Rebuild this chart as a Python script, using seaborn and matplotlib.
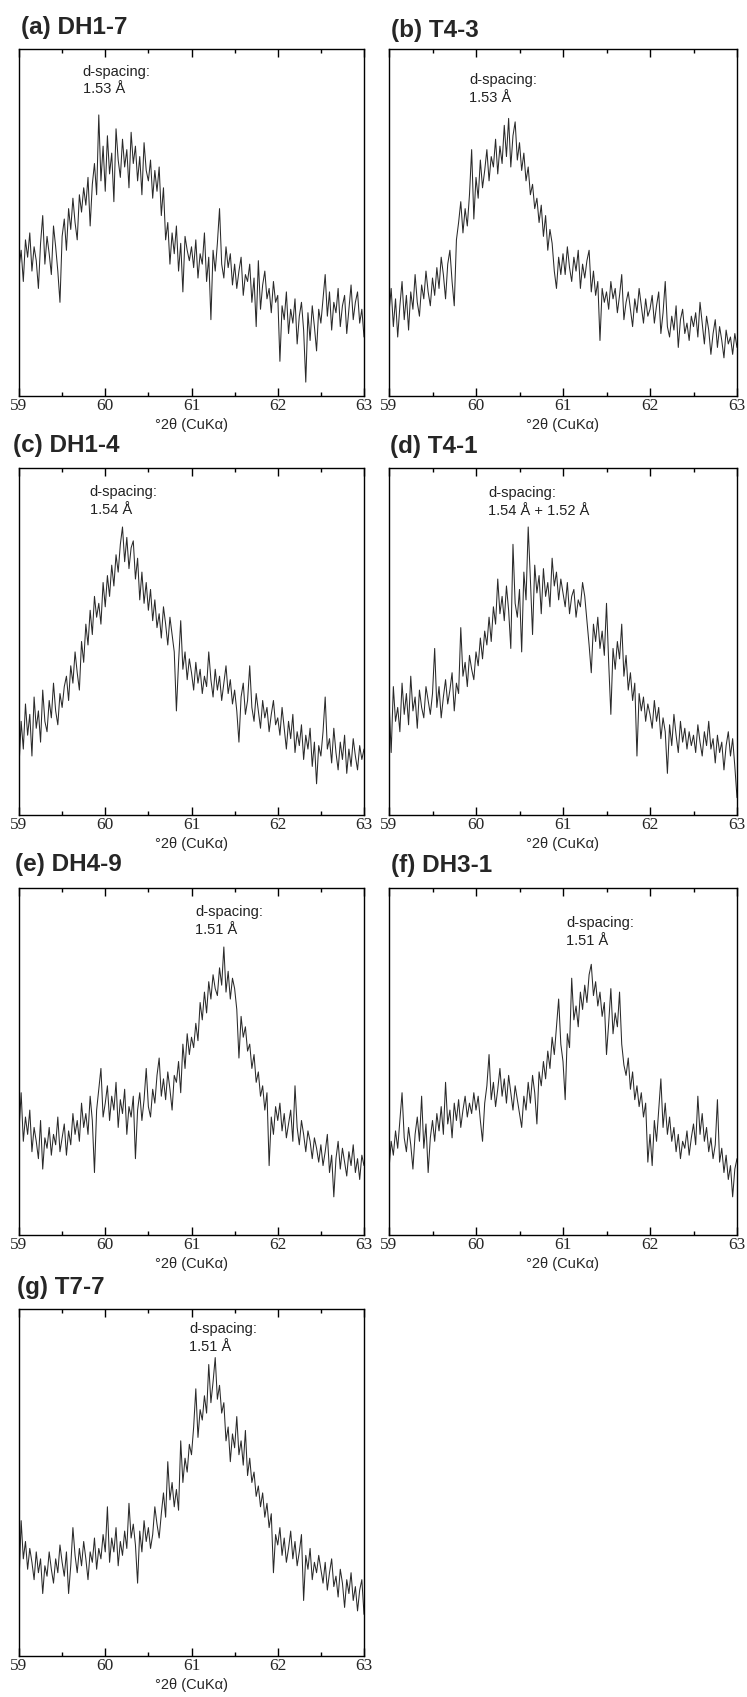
"""XRD detail scans, 59-63 °2θ (CuKα), seven samples in a 4x2 grid."""

import numpy as np
import pandas as pd
import matplotlib
matplotlib.use("Agg")
import matplotlib.pyplot as plt
from matplotlib.ticker import MultipleLocator
import seaborn as sns

# scan axis: 0.025 ° steps from 59 to 63
two_theta = np.round(np.arange(59.0, 63.0001, 0.025), 3)

# intensities, as % of the panel height (arbitrary units)
int_dh1_7 = [
    37, 42, 33, 45, 40, 47, 36, 43, 39, 31, 44, 52, 38, 46, 41, 35, 49, 43, 36, 27,
    46, 51, 42, 54, 48, 57, 50, 45, 58, 53, 60, 55, 63, 49, 61, 67, 58, 81, 62, 72,
    59, 75, 64, 70, 56, 77, 68, 63, 74, 66, 71, 60, 76, 67, 72, 62, 69, 58, 73, 65,
    62, 68, 57, 65, 59, 66, 52, 60, 45, 50, 38, 47, 41, 49, 36, 44, 30, 46, 42, 39,
    43, 37, 45, 34, 41, 38, 47, 33, 40, 22, 42, 36, 44, 54, 38, 34, 43, 37, 41, 32,
    38, 31, 36, 40, 29, 35, 33, 38, 27, 34, 20, 39, 25, 32, 36, 28, 31, 24, 33, 27,
    29, 10, 26, 22, 30, 18, 25, 21, 28, 15, 23, 27, 19, 4, 24, 16, 26, 20, 13, 25,
    21, 28, 35, 23, 30, 19, 27, 24, 31, 20, 26, 29, 18, 25, 32, 22, 27, 30, 21, 25,
    17,
]
int_t4_3 = [
    24, 31, 20, 28, 17, 26, 33, 22, 29, 19, 30, 25, 35, 27, 23, 32, 28, 36, 30, 26,
    34, 29, 37, 31, 40, 35, 28, 38, 42, 33, 26, 45, 50, 56, 47, 54, 49, 58, 71, 51,
    63, 57, 68, 60, 65, 71, 62, 69, 66, 74, 64, 72, 67, 78, 69, 80, 66, 75, 79, 68,
    73, 65, 70, 62, 66, 58, 61, 54, 57, 50, 55, 46, 52, 42, 48, 44, 36, 31, 40, 35,
    41, 35, 43, 37, 33, 40, 36, 42, 31, 38, 34, 39, 42, 30, 36, 29, 33, 16, 31, 27,
    30, 25, 33, 28, 31, 24, 29, 35, 22, 27, 30, 25, 20, 28, 24, 31, 26, 21, 28, 23,
    25, 29, 21, 26, 30, 18, 24, 33, 20, 17, 23, 19, 26, 14, 22, 25, 18, 21, 16, 23,
    20, 24, 17, 27, 21, 15, 23, 19, 12, 18, 22, 14, 20, 16, 11, 19, 15, 17, 12, 18,
    14,
]
int_dh1_4 = [
    14, 27, 19, 32, 23, 29, 17, 34, 25, 30, 21, 36, 27, 24, 33, 28, 38, 30, 26, 35,
    31, 37, 40, 33, 43, 38, 47, 41, 36, 50, 44, 55, 49, 59, 52, 63, 57, 61, 55, 67,
    60, 69, 63, 72, 66, 75, 70, 78, 83, 73, 80, 71, 77, 79, 68, 74, 62, 70, 61, 67,
    59, 65, 56, 62, 54, 58, 51, 60, 55, 49, 57, 52, 47, 30, 44, 56, 42, 47, 39, 45,
    41, 36, 44, 38, 42, 35, 40, 37, 47, 39, 34, 42, 36, 40, 33, 38, 43, 35, 39, 32,
    36, 30, 21, 34, 38, 29, 33, 43, 31, 27, 35, 30, 25, 33, 28, 31, 24, 29, 33, 26,
    28, 23, 31, 25, 19, 27, 22, 29, 18, 24, 20, 26, 16, 23, 19, 25, 14, 21, 9, 20,
    17, 24, 34, 19, 22, 15, 25, 18, 13, 21, 16, 23, 12, 19, 14, 22, 17, 13, 20, 16,
    19,
]
int_t4_1 = [
    33, 18, 37, 27, 31, 24, 38, 29, 35, 26, 40, 30, 34, 25, 36, 31, 28, 37, 33, 29,
    35, 48, 31, 37, 28, 34, 39, 32, 36, 41, 30, 38, 35, 54, 40, 44, 37, 46, 42, 39,
    47, 43, 51, 45, 53, 49, 57, 50, 60, 55, 68, 58, 63, 56, 66, 59, 48, 78, 61, 57,
    65, 47, 70, 62, 83, 68, 52, 72, 64, 69, 58, 71, 63, 67, 60, 74, 66, 70, 62, 68,
    64, 60, 67, 58, 63, 65, 57, 62, 60, 67, 63, 56, 49, 41, 55, 50, 57, 48, 53, 46,
    61, 44, 29, 48, 42, 50, 45, 55, 40, 46, 36, 41, 33, 38, 17, 35, 30, 34, 27, 32,
    29, 25, 33, 27, 31, 22, 28, 24, 12, 26, 20, 29, 23, 18, 27, 21, 25, 19, 24, 20,
    23, 18, 26, 21, 17, 24, 20, 27, 19, 22, 15, 23, 18, 21, 13, 20, 24, 17, 22, 14,
    5,
]
int_dh4_9 = [
    30, 41, 27, 34, 29, 36, 24, 31, 27, 22, 33, 19, 28, 25, 31, 23, 29, 26, 34, 24,
    28, 32, 23, 30, 26, 35, 29, 33, 27, 38, 31, 35, 29, 40, 33, 18, 36, 42, 48, 34,
    38, 43, 33, 40, 36, 44, 31, 39, 35, 42, 29, 37, 34, 40, 22, 36, 41, 33, 39, 48,
    37, 34, 42, 38, 46, 51, 40, 45, 39, 47, 42, 36, 46, 44, 50, 41, 55, 48, 58, 52,
    57, 54, 61, 56, 67, 62, 70, 64, 73, 68, 75, 71, 69, 77, 72, 83, 70, 76, 68, 74,
    71, 65, 51, 63, 57, 60, 53, 55, 48, 52, 44, 47, 40, 43, 36, 41, 20, 34, 29, 37,
    33, 38, 30, 35, 28, 32, 36, 27, 43, 31, 26, 33, 29, 24, 30, 27, 22, 28, 25, 21,
    26, 20, 24, 29, 18, 23, 11, 22, 27, 19, 25, 21, 17, 24, 20, 26, 18, 22, 16, 23,
    20,
]
int_dh3_1 = [
    19, 27, 23, 30, 25, 33, 41, 28, 24, 31, 26, 19, 29, 34, 27, 40, 25, 32, 18, 28,
    33, 27, 35, 30, 37, 29, 44, 32, 36, 28, 38, 33, 39, 31, 36, 40, 34, 38, 35, 41,
    36, 40, 33, 27, 38, 43, 52, 39, 44, 37, 42, 48, 40, 45, 38, 46, 41, 36, 43, 39,
    35, 31, 40, 36, 44, 38, 46, 41, 32, 47, 43, 50, 45, 53, 48, 57, 52, 60, 68, 55,
    50, 39, 58, 54, 74, 62, 66, 60, 70, 65, 72, 67, 75, 78, 69, 73, 66, 70, 63, 67,
    52, 61, 71, 58, 64, 60, 70, 55, 49, 46, 51, 42, 47, 39, 43, 37, 41, 34, 38, 21,
    29, 20, 33, 27, 36, 45, 31, 38, 29, 34, 27, 31, 24, 29, 22, 27, 25, 30, 23, 28,
    32, 26, 40, 29, 35, 27, 31, 24, 28, 22, 26, 39, 21, 25, 18, 23, 16, 20, 11, 19,
    22,
]
int_t7_7 = [
    21, 39, 28, 33, 25, 31, 27, 22, 30, 24, 28, 18, 26, 23, 30, 25, 21, 28, 24, 32,
    27, 23, 30, 18, 26, 37, 29, 24, 31, 26, 33, 28, 22, 30, 27, 34, 25, 31, 28, 35,
    30, 43, 27, 34, 30, 37, 26, 33, 29, 36, 31, 44, 34, 38, 32, 21, 36, 30, 39, 33,
    37, 31, 35, 43, 38, 34, 41, 47, 40, 56, 45, 50, 43, 48, 42, 62, 50, 57, 53, 61,
    58, 66, 77, 63, 71, 68, 75, 70, 84, 73, 79, 86, 74, 78, 70, 73, 62, 66, 56, 64,
    60, 69, 58, 62, 55, 65, 52, 57, 50, 53, 46, 49, 43, 47, 40, 44, 37, 41, 24, 35,
    32, 37, 29, 34, 27, 31, 36, 28, 33, 26, 30, 35, 16, 29, 25, 31, 22, 27, 24, 29,
    25, 21, 27, 19, 24, 28, 20, 23, 17, 25, 21, 14, 22, 18, 24, 16, 20, 13, 19, 22,
    12,
]

panel_titles = ["(a) DH1-7", "(b) T4-3", "(c) DH1-4", "(d) T4-1",
                "(e) DH4-9", "(f) DH3-1", "(g) T7-7"]
panel_series = [int_dh1_7, int_t4_3, int_dh1_4, int_t4_1,
                int_dh4_9, int_dh3_1, int_t7_7]
d_spacing = ["1.53 Å", "1.53 Å", "1.54 Å", "1.54 Å + 1.52 Å",
             "1.51 Å", "1.51 Å", "1.51 Å"]
# where the d-spacing note sits: x in °2θ, y as fraction of the panel
note_x = [59.74, 59.92, 59.82, 60.14, 61.04, 61.04, 60.97]
note_y = [0.955, 0.930, 0.950, 0.948, 0.950, 0.920, 0.962]
title_dx = [0.005, 0.005, -0.016, 0.003, -0.012, 0.006, -0.006]
title_dy = [1.042, 1.036, 1.046, 1.044, 1.048, 1.046, 1.044]

XLABEL = "°2θ (CuKα)"
LINE_COLOR = "#2a2a2a"

sns.set_style("ticks")
plt.rcParams["font.family"] = ["Liberation Sans", "DejaVu Sans"]

W, H = 747, 1697
fig = plt.figure(figsize=(W / 100, H / 100), dpi=100)

col_left = [19, 389]
col_width = [345, 348]
row_bottom = [396, 815, 1235, 1656]
ax_height = 347

for i, (title, series) in enumerate(zip(panel_titles, panel_series)):
    r, c = divmod(i, 2)
    rect = [col_left[c] / W, 1 - row_bottom[r] / H, col_width[c] / W, ax_height / H]
    ax = fig.add_axes(rect)

    df = pd.DataFrame({"two_theta": two_theta, "intensity": series})
    sns.lineplot(data=df, x="two_theta", y="intensity", ax=ax,
                 color=LINE_COLOR, linewidth=0.75, estimator=None, errorbar=None)

    ax.set_xlim(59, 63)
    ax.set_ylim(0, 100)
    ax.set_yticks([])
    ax.set_ylabel("")
    ax.xaxis.set_major_locator(MultipleLocator(1))
    ax.xaxis.set_minor_locator(MultipleLocator(0.5))
    ax.tick_params(axis="x", which="both", direction="in", top=True, bottom=True,
                   width=1.0, color="black", labelsize=12.5, pad=1.5,
                   labelfontfamily="Liberation Serif")
    ax.tick_params(axis="x", which="major", length=5.5)
    ax.tick_params(axis="x", which="minor", length=3)
    for sp in ax.spines.values():
        sp.set_visible(True)
        sp.set_linewidth(1.0)
        sp.set_color("black")

    ax.set_xlabel(XLABEL, fontsize=10.5, labelpad=3)

    ax.text(title_dx[i], title_dy[i], title, transform=ax.transAxes,
            fontsize=17.5, fontweight="bold", ha="left", va="baseline")
    ax.text(note_x[i], note_y[i], "d-spacing:\n" + d_spacing[i],
            transform=ax.get_xaxis_transform(), fontsize=10.5,
            ha="left", va="top", linespacing=1.35, color="#222222")

fig.savefig("out.png", dpi=100)
plt.close(fig)
